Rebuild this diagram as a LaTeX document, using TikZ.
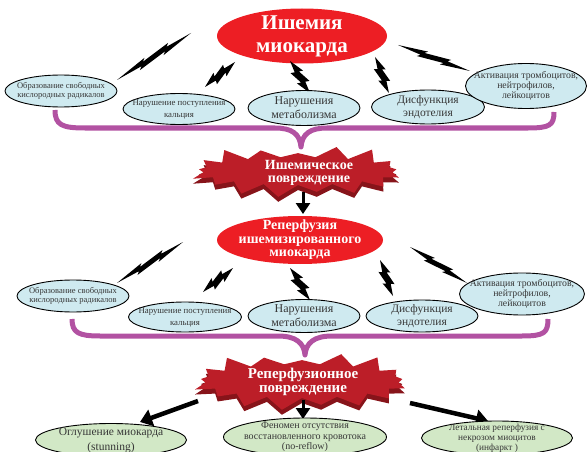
\documentclass[tikz,border=0pt]{standalone}
\usepackage{fontspec}
\setmainfont{Liberation Serif}
\usetikzlibrary{shapes.symbols,shapes.geometric,arrows.meta,calc}
\definecolor{redell}{RGB}{237,30,36}
\definecolor{burst}{RGB}{188,30,40}
\definecolor{burstdark}{RGB}{135,20,26}
\definecolor{blueell}{RGB}{207,234,240}
\definecolor{greenell}{RGB}{210,232,198}
\definecolor{bracecol}{RGB}{178,82,162}
\definecolor{txt}{RGB}{55,55,55}
\newcommand\zbolt[4]{%
 \fill[black] (#1) -- ($(#1)!0.40!(#2)!#3!90:(#2)$) -- ($(#1)!0.36!(#2)!#4!90:(#2)$) -- ($(#1)!0.72!(#2)!#3!90:(#2)$) -- ($(#1)!0.68!(#2)!#4!90:(#2)$) -- (#2) -- ($(#1)!0.60!(#2)!#3!-90:(#2)$) -- ($(#1)!0.64!(#2)!#4!-90:(#2)$) -- ($(#1)!0.28!(#2)!#3!-90:(#2)$) -- ($(#1)!0.32!(#2)!#4!-90:(#2)$) -- cycle;}
\tikzset{
 sz/.style 2 args={minimum width=#1pt, minimum height=#2pt},
 factor/.style={ellipse, draw=black, line width=0.9pt, fill=blueell, text=txt, align=center, inner sep=-30pt},
 outcome/.style={ellipse, draw=black, line width=0.9pt, fill=greenell, text=txt, align=center, inner sep=-30pt},
 mainell/.style={ellipse, fill=redell, text=white, align=center, inner sep=-40pt},
 burstnode/.style={starburst, fill=burst, text=white, align=center, starburst points=17, starburst point height=15pt, random starburst=23, inner sep=-30pt},
 burstshadow/.style={starburst, fill=burstdark, starburst points=17, starburst point height=15pt, random starburst=23, inner sep=-30pt},
 bursttext/.style={text=white, align=center, inner sep=0pt},
 bracepath/.style={draw=bracecol, line width=5pt, line join=round},
 bigarrow/.style={line width=4.5pt, -{Triangle[width=17pt,length=12pt]}},
 midarrow/.style={line width=3pt, -{Triangle[width=14pt,length=11pt]}},
}
\begin{document}
\begin{tikzpicture}[x=1pt,y=-1pt]
\useasboundingbox (0,0) rectangle (587,452);

% braces
\coordinate (b1l) at (55,110); \coordinate (b1m) at (301,147); \coordinate (b1r) at (554,112);
\draw[bracepath] (b1l) .. controls (55,125) and (62,128) .. (85,128) -- (275,128) .. controls (292,128) and (300,134) .. (b1m)
  .. controls (302,134) and (310,128) .. (327,128) -- (528,128) .. controls (550,128) and (554,125) .. (b1r);
\coordinate (b2l) at (72,319); \coordinate (b2m) at (305,355); \coordinate (b2r) at (548,319);
\draw[bracepath] (b2l) .. controls (72,333) and (79,336) .. (100,336) -- (278,336) .. controls (296,336) and (304,343) .. (b2m)
  .. controls (306,343) and (314,336) .. (332,336) -- (522,336) .. controls (544,336) and (548,333) .. (b2r);

% top block
\node[mainell, sz={170}{55}, font=\fontsize{21}{23}\selectfont\bfseries] (isch) at (302,36) {Ишемия\\миокарда};
\coordinate (l1a) at (191,33);  \coordinate (l1b) at (117,80);
\coordinate (l2a) at (235,62);  \coordinate (l2b) at (205,87);
\coordinate (l3a) at (290,61);  \coordinate (l3b) at (310,93);
\coordinate (l4a) at (375,57);  \coordinate (l4b) at (389,93);
\coordinate (l5a) at (398,45);  \coordinate (l5b) at (470,71);
\zbolt{l1a}{l1b}{4pt}{1.5pt}
\zbolt{l2a}{l2b}{5.5pt}{2pt}
\zbolt{l3a}{l3b}{6pt}{2pt}
\zbolt{l4a}{l4b}{5.5pt}{2pt}
\zbolt{l5a}{l5b}{4pt}{1.5pt}

\node[factor, sz={112}{32}, font=\fontsize{8.5}{9.5}\selectfont] (f1) at (61,91) {Образование свободных\\кислородных радикалов};
\node[factor, sz={112}{31}, font=\fontsize{8.8}{12}\selectfont] (f2) at (179,109) {Нарушение поступления\\кальция};
\node[factor, sz={112}{35}, font=\fontsize{12}{14}\selectfont] (f3) at (304,108) {Нарушения\\метаболизма};
\node[factor, sz={113}{34}, font=\fontsize{11.5}{13}\selectfont] (f4) at (428,107) {Дисфункция\\эндотелия};
\node[factor, sz={121}{45}, font=\fontsize{9.8}{10}\selectfont] (f5) at (526,86) {Активация тромбоцитов,\\нейтрофилов,\\лейкоцитов};

% ischemic injury
\node[burstshadow, sz={220}{58}] (inj1s) at (298,176) {};
\node[burstnode, sz={220}{58}] (inj1) at (298,171) {};
\node[bursttext, font=\fontsize{14}{13.5}\selectfont\bfseries] (inj1t) at (309,173) {Ишемическое\\повреждение};

% reperfusion
\node[mainell, sz={166}{48}, font=\fontsize{14}{13.5}\selectfont\bfseries] (rep) at (300,240) {Реперфузия\\ишемизированного\\миокарда};
\coordinate (a1s) at (303,192); \coordinate (a1e) at (303,214);
\draw[midarrow] (a1s) -- (a1e);

\coordinate (m1a) at (183,242); \coordinate (m1b) at (117,283);
\coordinate (m2a) at (233,268); \coordinate (m2b) at (203,292);
\coordinate (m3a) at (290,268); \coordinate (m3b) at (310,300);
\coordinate (m4a) at (380,260); \coordinate (m4b) at (393,296);
\coordinate (m5a) at (410,247); \coordinate (m5b) at (467,283);
\zbolt{m1a}{m1b}{4pt}{1.5pt}
\zbolt{m2a}{m2b}{5.5pt}{2pt}
\zbolt{m3a}{m3b}{6pt}{2pt}
\zbolt{m4a}{m4b}{5.5pt}{2pt}
\zbolt{m5a}{m5b}{4pt}{1.5pt}

\node[factor, sz={112}{32}, font=\fontsize{8.5}{9.5}\selectfont] (g1) at (73,296) {Образование свободных\\кислородных радикалов};
\node[factor, sz={113}{30}, font=\fontsize{8.8}{12}\selectfont] (g2) at (185,317) {Нарушение поступления\\кальция};
\node[factor, sz={112}{33}, font=\fontsize{12}{14}\selectfont] (g3) at (304,316) {Нарушения\\метаболизма};
\node[factor, sz={112}{32}, font=\fontsize{11.5}{13}\selectfont] (g4) at (422,316) {Дисфункция\\эндотелия};
\node[factor, sz={125}{42}, font=\fontsize{9.8}{10}\selectfont] (g5) at (522,294) {Активация тромбоцитов,\\нейтрофилов,\\лейкоцитов};

% reperfusion injury
\node[burstshadow, sz={224}{64}] (inj2s) at (302,386) {};
\node[burstnode, sz={224}{64}] (inj2) at (302,381) {};
\node[bursttext, font=\fontsize{15}{14}\selectfont\bfseries] (inj2t) at (303,382) {Реперфузионное\\повреждение};

\coordinate (c1s) at (198,401); \coordinate (c1e) at (140,422);
\coordinate (c2s) at (303,400); \coordinate (c2e) at (303,419);
\coordinate (c3s) at (410,403); \coordinate (c3e) at (488,421);
\draw[bigarrow] (c1s) -- (c1e);
\draw[midarrow] (c2s) -- (c2e);
\draw[bigarrow] (c3s) -- (c3e);

\node[outcome, sz={151}{33}, font=\fontsize{11.5}{15}\selectfont] (o1) at (111,440) {Оглушение миокарда\\(stunning)};
\node[outcome, sz={163}{38}, font=\fontsize{10}{10.5}\selectfont] (o2) at (305,437) {Феномен отсутствия\\восстановленного кровотока\\(no-reflow)};
\node[outcome, sz={151}{34}, font=\fontsize{9.3}{10}\selectfont] (o3) at (497,438) {Летальная реперфузия с\\некрозом миоцитов\\(инфаркт )};
\end{tikzpicture}
\end{document}
